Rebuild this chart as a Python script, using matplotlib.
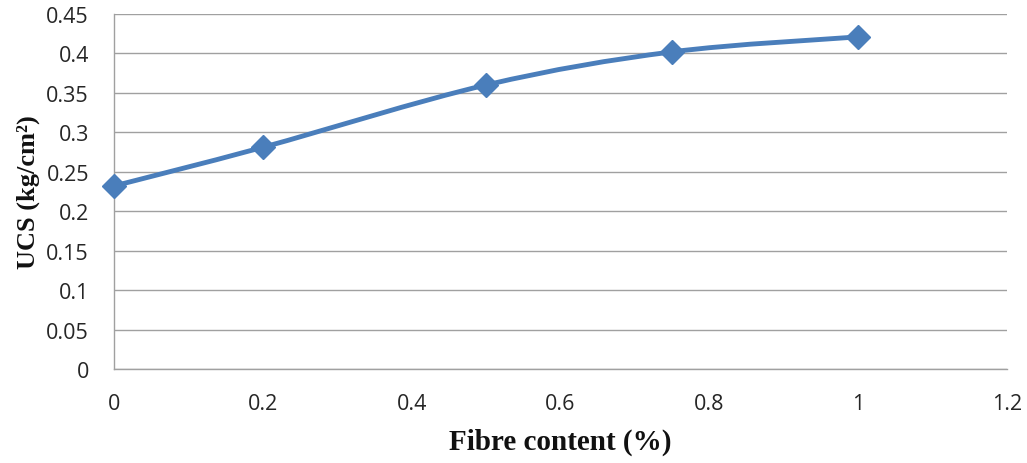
import numpy as np
import matplotlib
matplotlib.use('Agg')
import matplotlib.pyplot as plt
from matplotlib.path import Path
from matplotlib.patches import PathPatch

fibre = [0, 0.2, 0.5, 0.75, 1.0]
ucs = [0.232, 0.281, 0.360, 0.402, 0.421]
xticks = [0, 0.2, 0.4, 0.6, 0.8, 1, 1.2]
yticks = [0, 0.05, 0.1, 0.15, 0.2, 0.25, 0.3, 0.35, 0.4, 0.45]

blue = '#4A7EBB'

fig = plt.figure(figsize=(10.27, 4.64), dpi=100)
ax = fig.add_axes([0.111, 0.2026, 0.8695, 0.7651])

# smooth line through the points as cubic bezier segments
pts = np.column_stack([fibre, ucs])
n = len(pts)
verts = [tuple(pts[0])]
codes = [Path.MOVETO]
for i in range(n - 1):
    p0 = pts[max(i - 1, 0)]
    p1 = pts[i]
    p2 = pts[i + 1]
    p3 = pts[min(i + 2, n - 1)]
    c1 = p1 + (p2 - p0) / 6
    c2 = p2 - (p3 - p1) / 6
    verts += [tuple(c1), tuple(c2), tuple(p2)]
    codes += [Path.CURVE4] * 3
ax.add_patch(PathPatch(Path(verts, codes), fill=False, edgecolor=blue,
                       lw=3.5, capstyle='round', joinstyle='round', zorder=3))
ax.plot(fibre, ucs, ls='none', marker='D', ms=12.5, color=blue, zorder=4,
        clip_on=False)

ax.set_xlim(0, 1.2)
ax.set_ylim(0, 0.45)
ax.set_xticks(xticks)
ax.set_xticklabels([f'{v:g}' for v in xticks])
ax.set_yticks(yticks)
ax.set_yticklabels([f'{v:g}' for v in yticks])
ax.tick_params(length=0, labelsize=15.5, labelcolor='#262626')
ax.tick_params(axis='y', pad=18)
ax.tick_params(axis='x', pad=17)
for lab in ax.get_xticklabels() + ax.get_yticklabels():
    lab.set_family('Open Sans')

ax.grid(axis='y', color='#A0A0A0', lw=1)
ax.set_axisbelow(True)
for s in ['top', 'right']:
    ax.spines[s].set_visible(False)
for s in ['left', 'bottom']:
    ax.spines[s].set_color('#A0A0A0')
    ax.spines[s].set_linewidth(1)

ax.set_xlabel('Fibre content (%)', family='Liberation Serif', fontweight='bold',
              fontsize=21, labelpad=10, color='#111111')
ax.set_ylabel('UCS (kg/cm²)', family='Liberation Serif', fontweight='bold',
              fontsize=19, color='#111111')
ax.yaxis.set_label_coords(-0.083, 0.5)

fig.savefig('out.png', dpi=100)
